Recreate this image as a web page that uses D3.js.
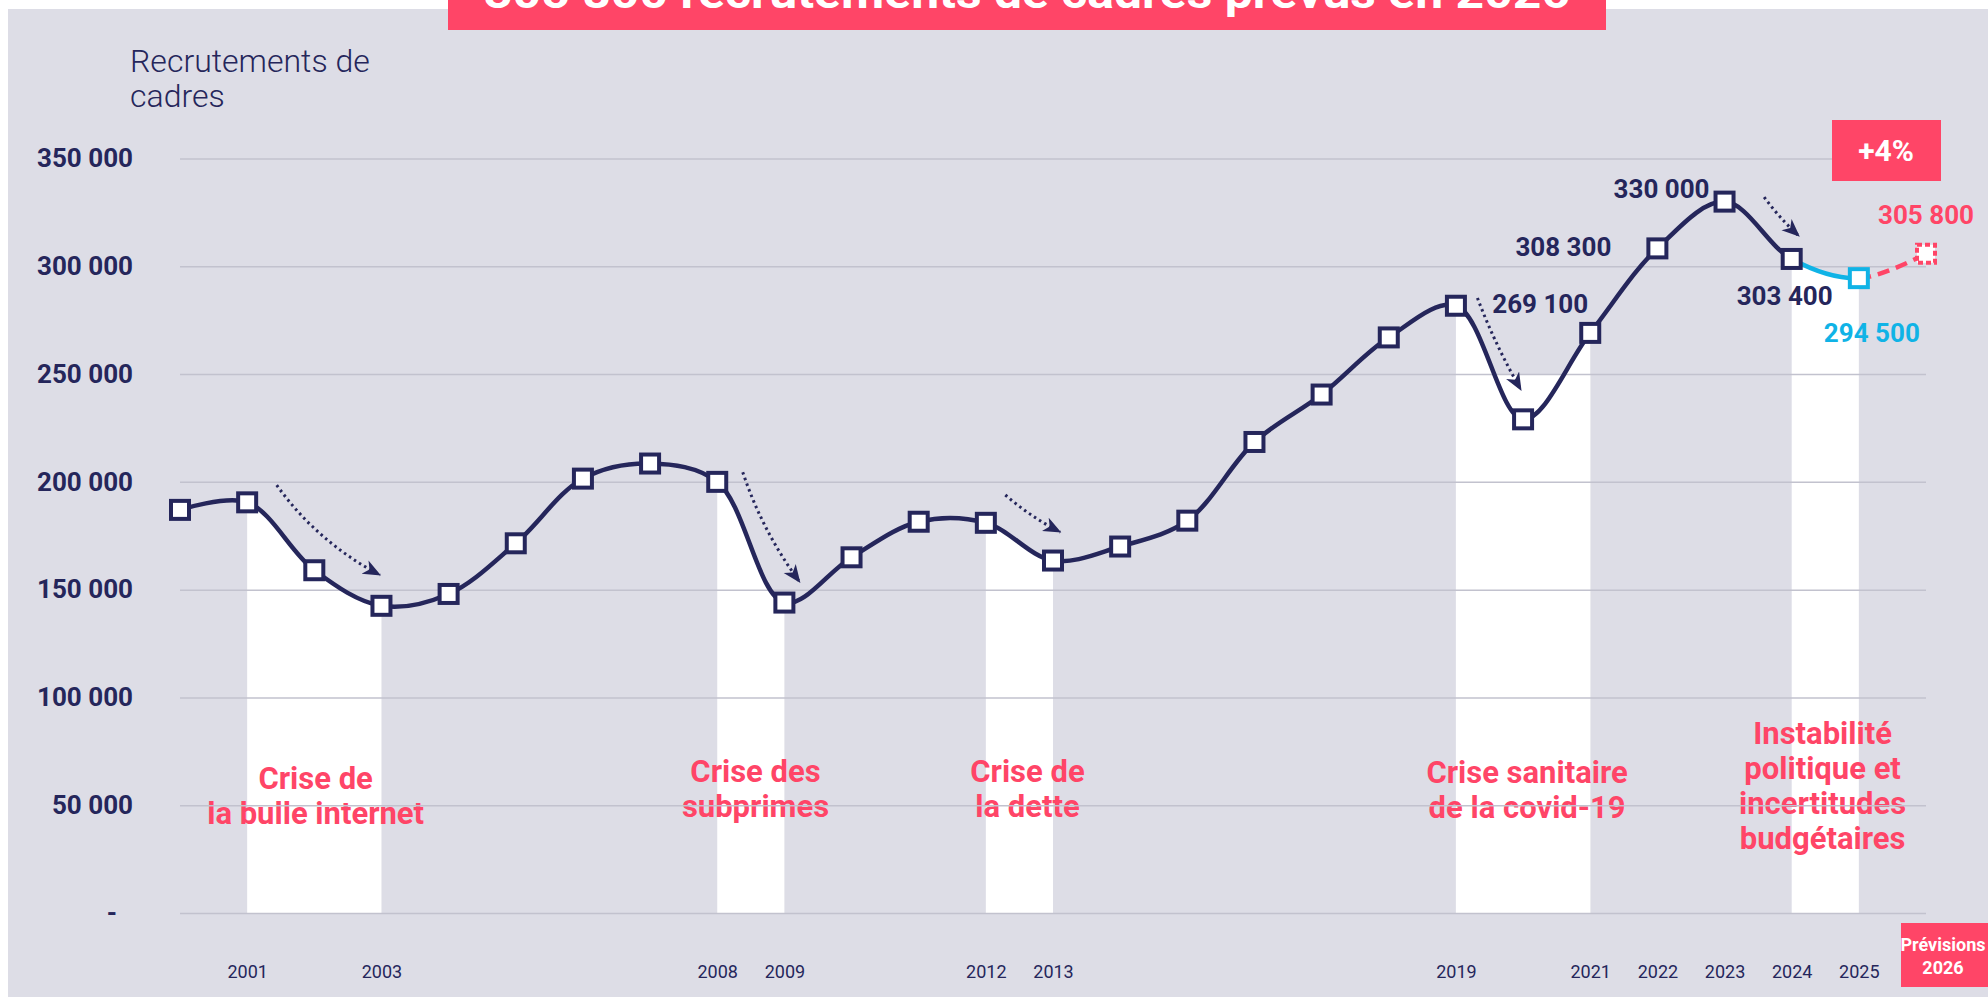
<!DOCTYPE html>
<html>
<head>
<meta charset="utf-8">
<script src="https://cdn.jsdelivr.net/npm/d3@7"></script>
<style>
  body { margin: 0; background: #fff; }
  svg { display: block; font-family: Roboto, "Noto Sans", sans-serif; }
</style>
</head>
<body>
<div id="chart"></div>
<script>
// data
var years = [2000, 2001, 2002, 2003, 2004, 2005, 2006, 2007, 2008, 2009, 2010, 2011, 2012, 2013,
             2014, 2015, 2016, 2017, 2018, 2019, 2020, 2021, 2022, 2023, 2024, 2025, 2026];
var recrutements = [187000, 190500, 159000, 142500, 148000, 171500, 201500, 208500, 200000, 144000,
                    165000, 181500, 181000, 163500, 170000, 182000, 218500, 240500, 267000, 281700,
                    229000, 269100, 308300, 330000, 303400, 294500, 305800];
var yTicks = [0, 50000, 100000, 150000, 200000, 250000, 300000, 350000];
var yearTicks = [2001, 2003, 2008, 2009, 2012, 2013, 2019, 2021, 2022, 2023, 2024, 2025];
var crisisBands = [[2001, 2003], [2008, 2009], [2012, 2013], [2019, 2021], [2024, 2025]];
var bandFloors = [0, 0, 0, 250000, 0];   // white fill also reaches this level inside the band
var crisisLabels = [
  ["Crise de", "la bulle internet"],
  ["Crise des", "subprimes"],
  ["Crise de", "la dette"],
  ["Crise sanitaire", "de la covid-19"],
  ["Instabilité", "politique et", "incertitudes", "budgétaires"]
];
var labelledYears = [2021, 2022, 2023, 2024, 2025, 2026];

var W = 1988, H = 997;
var navy = "#25265b", red = "#ff4567", cyan = "#10b3e6", bg = "#dddde6";

// annotation layout (data units for anchors, px offsets)
var crisisPos = [
  { year: 2002.02, y: 789 }, { year: 2008.57, y: 782 }, { year: 2012.62, y: 782 },
  { year: 2020.06, y: 783 }, { year: 2024.46, y: 744 }
];
var labelPos = {
  2021: { dx: -98, dy: -20, anchor: "start", color: navy },
  2022: { dx: -46, dy: 8, anchor: "end", color: navy },
  2023: { dx: -15, dy: -4, anchor: "end", color: navy },
  2024: { dx: -7, dy: 46, anchor: "middle", color: navy },
  2025: { dx: 13, dy: 64, anchor: "middle", color: cyan },
  2026: { dx: 0, dy: -30, anchor: "middle", color: red }
};
var arrows = [
  { x0: 2001.44, v0: 198500, x1: 2002.98, v1: 156800, bend: 0.12 },
  { x0: 2008.38, v0: 204500, x1: 2009.23, v1: 153500, bend: 0.08 },
  { x0: 2012.29, v0: 193900, x1: 2013.11, v1: 176700, bend: 0.06 },
  { x0: 2019.32, v0: 285300, x1: 2019.97, v1: 242600, bend: 0.04 },
  { x0: 2023.59, v0: 332100, x1: 2024.11, v1: 314000, bend: 0.05 }
];

var svg = d3.select("#chart").append("svg").attr("width", W).attr("height", H);
var defs = svg.append("defs");

svg.append("rect").attr("x", 8).attr("y", 9).attr("width", W - 8).attr("height", H - 9).attr("fill", bg);

var x = d3.scaleLinear().domain([2000, 2026]).range([180, 1926]);
var y = d3.scaleLinear().domain([0, 350000]).range([913, 158.5]);

var data = years.map(function(yr, i) { return { year: yr, value: recrutements[i] }; });
var byYear = {};
data.forEach(function(d) { byYear[d.year] = d.value; });

var fmt = function(v) { return d3.format(",")(v).replace(/,/g, " "); };
var curve = d3.curveCatmullRom.alpha(0.5);

// white crisis bands: area under the smoothed line, clipped to each period
var bandArea = d3.area().curve(curve)
  .x(function(d) { return x(d.year); })
  .y0(y(0))
  .y1(function(d) { return y(d.value); });

var bands = svg.append("g");
crisisBands.forEach(function(b, i) {
  defs.append("clipPath").attr("id", "band" + i).append("rect")
    .attr("x", x(b[0])).attr("y", 0).attr("width", x(b[1]) - x(b[0])).attr("height", H);
  bands.append("path").datum(data).attr("d", bandArea)
    .attr("clip-path", "url(#band" + i + ")").attr("fill", "#fff");
  if (bandFloors[i] > 0) {
    bands.append("rect").attr("x", x(b[0])).attr("y", y(bandFloors[i]))
      .attr("width", x(b[1]) - x(b[0])).attr("height", y(0) - y(bandFloors[i]))
      .attr("fill", "#fff");
  }
});

// crisis labels (under the gridlines)
var cl = svg.append("g").attr("fill", red).attr("font-weight", 700).attr("font-size", 31)
  .attr("text-anchor", "middle");
crisisLabels.forEach(function(lines, i) {
  var t = cl.append("text").attr("x", x(crisisPos[i].year)).attr("y", crisisPos[i].y);
  lines.forEach(function(l, j) {
    t.append("tspan").attr("x", x(crisisPos[i].year)).attr("dy", j === 0 ? 0 : 35).text(l);
  });
});

// y axis + gridlines
var yAxis = svg.append("g")
  .attr("transform", "translate(" + x(2000) + ",0)")
  .call(d3.axisLeft(y).tickValues(yTicks).tickSize(-(x(2026) - x(2000))).tickPadding(47)
    .tickFormat(function(v) { return v === 0 ? "-" : fmt(v); }));
yAxis.select(".domain").remove();
yAxis.selectAll(".tick line").attr("stroke", "#c2c2ce").attr("stroke-width", 1.5);
yAxis.selectAll(".tick text").attr("fill", navy).attr("font-size", 26).attr("font-weight", 700)
  .attr("font-family", "Roboto, sans-serif");
yAxis.selectAll(".tick text").filter(function(d) { return d === 0; }).attr("dx", -16);

// x axis
var xAxis = svg.append("g")
  .attr("transform", "translate(0," + y(0) + ")")
  .call(d3.axisBottom(x).tickValues(yearTicks).tickSize(0).tickPadding(52).tickFormat(d3.format("d")));
xAxis.select(".domain").remove();
xAxis.selectAll(".tick text").attr("fill", navy).attr("font-size", 18)
  .attr("font-family", "Roboto, sans-serif");

// axis title
svg.append("text").attr("x", 130).attr("y", 72).attr("fill", navy).attr("font-size", 32)
  .attr("font-weight", 300).text("Recrutements de");
svg.append("text").attr("x", 130).attr("y", 107).attr("fill", navy).attr("font-size", 32)
  .attr("font-weight", 300).text("cadres");

// dotted arrows
defs.append("marker").attr("id", "head").attr("markerUnits", "userSpaceOnUse")
  .attr("markerWidth", 20).attr("markerHeight", 16).attr("refX", 17).attr("refY", 7.5)
  .attr("orient", "auto")
  .append("path").attr("d", "M0,0 L18,7.5 L0,15 L5,7.5 Z").attr("fill", navy);

svg.append("g").selectAll("path").data(arrows).enter().append("path")
  .attr("d", function(a) {
    var p0 = [x(a.x0), y(a.v0)], p1 = [x(a.x1), y(a.v1)];
    var dx = p1[0] - p0[0], dy = p1[1] - p0[1];
    var cx = (p0[0] + p1[0]) / 2 - dy * a.bend, cy = (p0[1] + p1[1]) / 2 + dx * a.bend;
    return "M" + p0 + "Q" + cx + "," + cy + " " + p1;
  })
  .attr("fill", "none").attr("stroke", navy).attr("stroke-width", 3)
  .attr("stroke-dasharray", "2.5 3.5").attr("marker-end", "url(#head)");

// line, split in three colours via clip paths
var line = d3.line().curve(curve)
  .x(function(d) { return x(d.year); })
  .y(function(d) { return y(d.value); });

var clips = [
  { id: "cNavy", x0: 0, x1: x(2024), color: navy, dash: null },
  { id: "cCyan", x0: x(2024), x1: x(2025), color: cyan, dash: null },
  { id: "cRed", x0: x(2025), x1: W, color: red, dash: "12 7" }
];
clips.forEach(function(c) {
  defs.append("clipPath").attr("id", c.id).append("rect")
    .attr("x", c.x0).attr("y", 0).attr("width", c.x1 - c.x0).attr("height", H);
  svg.append("path").datum(data).attr("d", line)
    .attr("clip-path", "url(#" + c.id + ")")
    .attr("fill", "none").attr("stroke", c.color).attr("stroke-width", 4.5)
    .attr("stroke-dasharray", c.dash);
});

// square markers
var ms = 18;
svg.append("g").selectAll("rect").data(data).enter().append("rect")
  .attr("x", function(d) { return x(d.year) - ms / 2; })
  .attr("y", function(d) { return y(d.value) - ms / 2; })
  .attr("width", ms).attr("height", ms)
  .attr("fill", "#fff")
  .attr("stroke", function(d) { return d.year === 2025 ? cyan : d.year === 2026 ? red : navy; })
  .attr("stroke-width", 4)
  .attr("stroke-dasharray", function(d) { return d.year === 2026 ? "5 3" : null; });

// value labels
svg.append("g").selectAll("text").data(labelledYears).enter().append("text")
  .attr("x", function(yr) { return x(yr) + labelPos[yr].dx; })
  .attr("y", function(yr) { return y(byYear[yr]) + labelPos[yr].dy; })
  .attr("text-anchor", function(yr) { return labelPos[yr].anchor; })
  .attr("fill", function(yr) { return labelPos[yr].color; })
  .attr("font-size", 26).attr("font-weight", 700)
  .text(function(yr) { return fmt(byYear[yr]); });

// +4% box
svg.append("rect").attr("x", 1832).attr("y", 120).attr("width", 109).attr("height", 61).attr("fill", red);
svg.append("text").attr("x", 1886).attr("y", 161).attr("text-anchor", "middle").attr("fill", "#fff")
  .attr("font-size", 30).attr("font-weight", 700).text("+4%");

// Prévisions 2026 box
svg.append("rect").attr("x", 1901).attr("y", 923).attr("width", 87).attr("height", 64).attr("fill", red);
svg.append("text").attr("x", 1943).attr("y", 951).attr("text-anchor", "middle").attr("fill", "#fff")
  .attr("font-size", 18).attr("font-weight", 700).text("Prévisions");
svg.append("text").attr("x", 1943).attr("y", 974).attr("text-anchor", "middle").attr("fill", "#fff")
  .attr("font-size", 18).attr("font-weight", 700).text("2026");

// title box, cut by the top edge as in the source
svg.append("rect").attr("x", 448).attr("y", -20).attr("width", 1158).attr("height", 50).attr("fill", red);
svg.append("text").attr("x", 1027).attr("y", 8).attr("text-anchor", "middle").attr("fill", "#fff")
  .attr("font-size", 44).attr("font-weight", 700)
  .attr("textLength", 1086).attr("lengthAdjust", "spacingAndGlyphs")
  .text("305 800 recrutements de cadres prévus en 2026");
</script>
</body>
</html>
